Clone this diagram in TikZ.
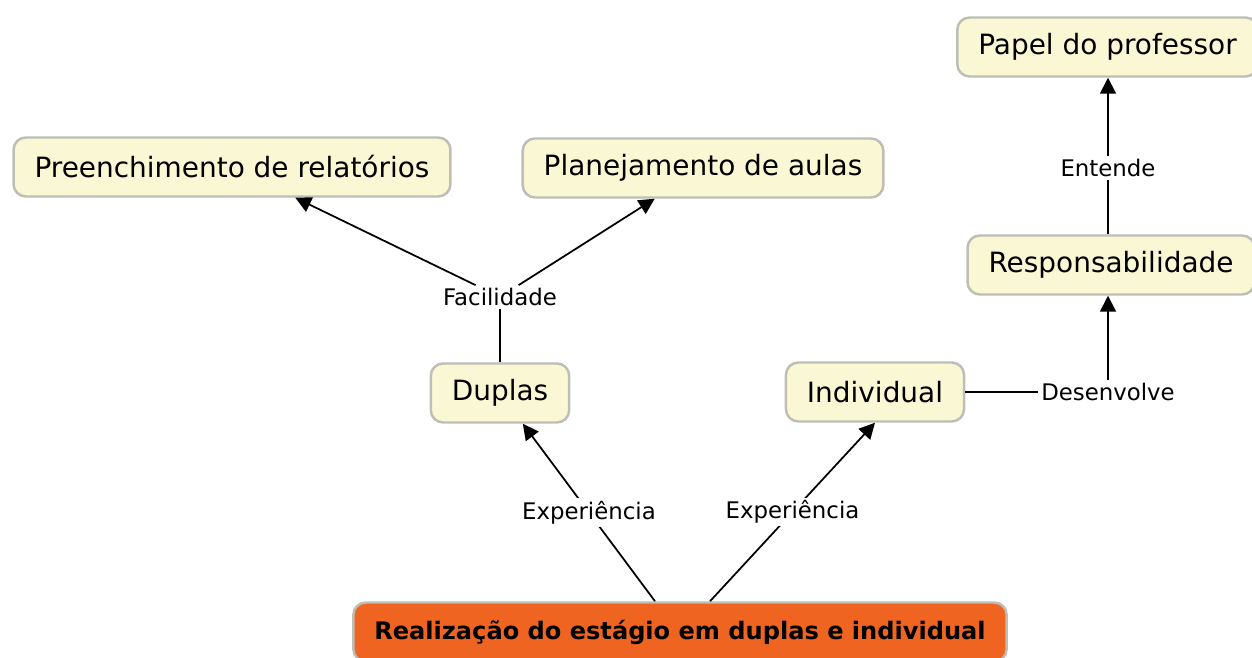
\documentclass[tikz,border=0pt]{standalone}
\usepackage{fontspec}
\setmainfont{DejaVu Sans}
\usetikzlibrary{calc}
\usetikzlibrary{arrows.meta}
\usetikzlibrary{positioning}

\definecolor{conceptfill}{RGB}{250,248,212}
\definecolor{conceptline}{RGB}{190,190,182}
\definecolor{rootfill}{RGB}{240,100,34}

\begin{document}
\begin{tikzpicture}[
    concept/.style={draw=conceptline, line width=1.4pt, fill=conceptfill, rounded corners=7pt,
      inner xsep=0.42cm, minimum height=1.18cm, font=\fontsize{15.9}{18}\selectfont},
    root/.style={concept, fill=rootfill, font=\fontsize{13.7}{16}\selectfont\bfseries},
    link/.style={fill=white, inner sep=1.5pt, font=\fontsize{13}{15}\selectfont},
    arr/.style={line width=1pt, -{Triangle[length=9pt,width=9pt]}},
    ln/.style={line width=1pt}
  ]
    \useasboundingbox (0,0) rectangle (25.04,13.14);

    % concepts
    \node[concept] (pre) at (4.64,9.80) {Preenchimento de relatórios};
    \node[concept] (pla) at (14.06,9.78) {Planejamento de aulas};
    \node[concept] (pap) at (22.15,12.20) {Papel do professor};
    \node[concept] (resp) at (22.22,7.84) {Responsabilidade};
    \node[concept] (dup) at (10.00,5.28) {Duplas};
    \node[concept] (ind) at (17.50,5.30) {Individual};
    \node[root, minimum width=12.9cm] (real) at (13.60,0.50) {Realização do estágio em duplas e individual};

    % linking words
    \node[link] (fac) at (10.00,7.20) {Facilidade};
    \node[link] (des) at (22.16,5.30) {Desenvolve};
    \node[link] (ent) at (22.16,9.78) {Entende};

    \coordinate (r1) at ($(real.north)+(-0.5,0)$);
    \coordinate (r2) at ($(real.north)+(0.6,0)$);

    \draw[ln] (dup) -- (fac);
    \draw[arr] (fac) -- (pre);
    \draw[arr] (fac) -- (pla);

    \draw[arr] (r1) -- node[link] {Experiência} (dup);
    \draw[arr] (r2) -- node[link] {Experiência} (ind.south);

    \draw[ln] (ind) -- (des);
    \draw[arr] (des) -- (des |- resp.south);
    \draw[ln] (ent |- resp.north) -- (ent);
    \draw[arr] (ent) -- (ent |- pap.south);
  \end{tikzpicture}
\end{document}
